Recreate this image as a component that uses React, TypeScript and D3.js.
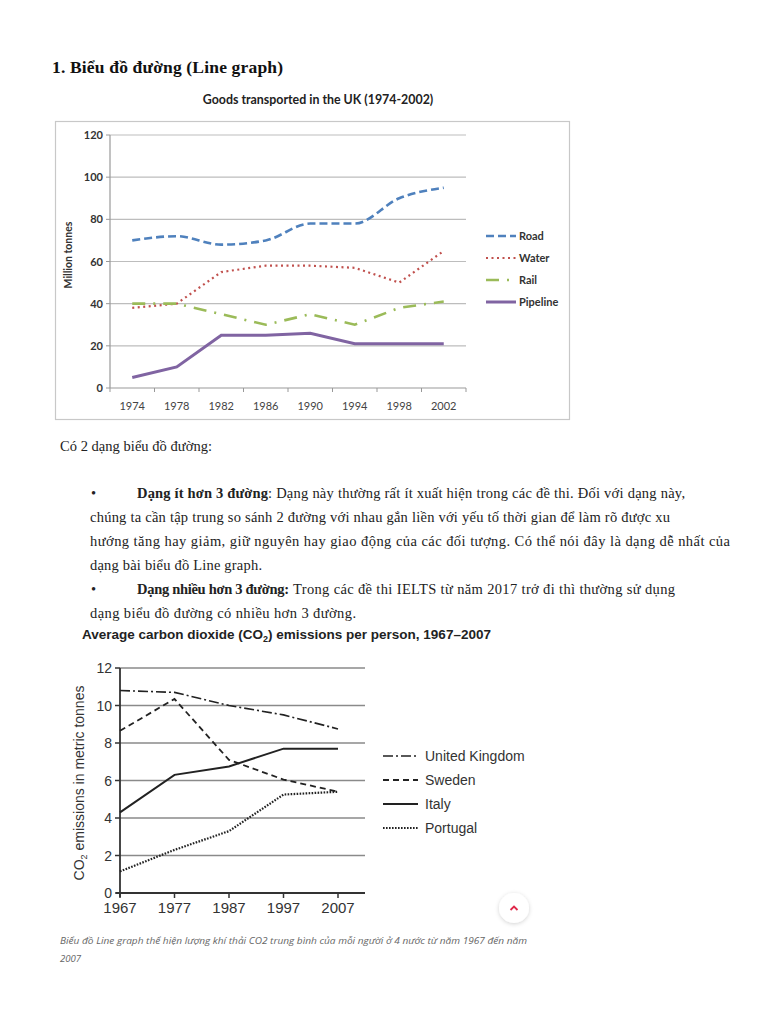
import React from "react";
import * as d3 from "d3";

// ---------- Chart 1 data ----------
const years1 = ["1974", "1978", "1982", "1986", "1990", "1994", "1998", "2002"];
const road = [70, 72, 68, 70, 78, 78, 90, 95];
const water = [38, 40, 55, 58, 58, 57, 50, 65];
const rail = [40, 40, 35, 30, 35, 30, 38, 41];
const pipeline = [5, 10, 25, 25, 26, 21, 21, 21];
const yTicks1 = [0, 20, 40, 60, 80, 100, 120];
const seriesNames1 = ["Road", "Water", "Rail", "Pipeline"];

// ---------- Chart 2 data ----------
const years2 = [1967, 1977, 1987, 1997, 2007];
const uk = [10.8, 10.7, 10.0, 9.5, 8.75];
const sweden = [8.65, 10.35, 7.1, 6.05, 5.4];
const italy = [4.3, 6.3, 6.75, 7.7, 7.7];
const portugal = [1.15, 2.3, 3.3, 5.25, 5.4];
const yTicks2 = [0, 2, 4, 6, 8, 10, 12];
const seriesNames2 = ["United Kingdom", "Sweden", "Italy", "Portugal"];

const serif = "'Liberation Serif', 'Times New Roman', serif";
const sans = "'Liberation Sans', Arial, sans-serif";
const calib = "Lato, 'Open Sans', sans-serif";

export default function App() {
  // Chart 1 scales
  const x1 = d3.scaleBand<string>().domain(years1).range([110, 466]).padding(0);
  const y1 = d3.scaleLinear().domain([0, 120]).range([388, 135]);
  const cx1 = (y: string) => (x1(y) as number) + x1.bandwidth() / 2;
  const styles1 = [
    { data: road, color: "#4F81BD", dash: "8,4", w: 2.6, curve: d3.curveMonotoneX },
    { data: water, color: "#C0504D", dash: "2,3.5", w: 2.2, curve: d3.curveLinear },
    { data: rail, color: "#9BBB59", dash: "13,8,2,8", w: 2.6, curve: d3.curveLinear },
    { data: pipeline, color: "#8064A2", dash: "none", w: 3, curve: d3.curveLinear },
  ];
  const mkLine1 = (curve: any) =>
    d3
      .line<number>()
      .x((_, i) => cx1(years1[i]))
      .y((d) => y1(d))
      .curve(curve);

  // Chart 2 scales
  const x2 = d3.scaleLinear().domain([1967, 2007]).range([120, 338]);
  const y2 = d3.scaleLinear().domain([0, 12]).range([893, 668]);
  const styles2 = [
    { data: uk, dash: "10,3,2,3", w: 1.6 },
    { data: sweden, dash: "6,4", w: 1.8 },
    { data: italy, dash: "none", w: 2 },
    { data: portugal, dash: "1.6,1.4", w: 2.2 },
  ];
  const line2 = d3
    .line<number>()
    .x((_, i) => x2(years2[i]))
    .y((d) => y2(d));

  const bandEdges = years1.map((y) => x1(y) as number).concat([466]);

  return (
    <svg
      width={768}
      height={1024}
      style={{ position: "absolute", left: 0, top: 0, background: "#fff" }}
    >
      <defs>
        <filter id="sh" x="-50%" y="-50%" width="200%" height="200%">
          <feDropShadow dx="0" dy="1" stdDeviation="2" floodColor="#000" floodOpacity="0.18" />
        </filter>
      </defs>
      <rect width={768} height={1024} fill="#fff" />

      {/* Heading */}
      <text x={52} y={73} fontFamily={serif} fontWeight="bold" fontSize={17.5} fill="#111" textLength={231} lengthAdjust="spacing">
        1. Biểu đồ đường (Line graph)
      </text>

      {/* Chart 1 title */}
      <text x={318} y={104} textAnchor="middle" fontFamily={calib} fontWeight="bold" fontSize={12.4} fill="#222">
        Goods transported in the UK (1974-2002)
      </text>

      {/* Chart 1 frame */}
      <rect x={55.5} y={121.5} width={514} height={298} fill="#fff" stroke="#c8c8c8" strokeWidth={1.2} />

      {/* gridlines */}
      {yTicks1.map((t) => (
        <g key={"g1" + t}>
          {t > 0 && <line x1={110} x2={466} y1={y1(t)} y2={y1(t)} stroke="#bdbdbd" strokeWidth={1.2} />}
          <line x1={106} x2={110} y1={y1(t)} y2={y1(t)} stroke="#999" strokeWidth={1} />
          <text x={103} y={y1(t) + 4} textAnchor="end" fontFamily={calib} fontWeight="bold" fontSize={11} fill="#333">
            {t}
          </text>
        </g>
      ))}
      <line x1={110} x2={110} y1={135} y2={388} stroke="#999" strokeWidth={1.2} />
      <line x1={110} x2={466} y1={388} y2={388} stroke="#999" strokeWidth={1.2} />
      {bandEdges.map((e, i) => (
        <line key={"be" + i} x1={e} x2={e} y1={388} y2={392} stroke="#999" strokeWidth={1} />
      ))}
      {years1.map((y) => (
        <text key={"xl1" + y} x={cx1(y)} y={410} textAnchor="middle" fontFamily={calib} fontSize={11} fill="#444">
          {y}
        </text>
      ))}
      <text
        transform={`translate(72,255) rotate(-90)`}
        textAnchor="middle"
        fontFamily={calib}
        fontWeight="bold"
        fontSize={10.5}
        fill="#333"
      >
        Million tonnes
      </text>

      {/* series */}
      {styles1.map((s, i) => (
        <path
          key={"s1" + i}
          d={mkLine1(s.curve)(s.data) as string}
          fill="none"
          stroke={s.color}
          strokeWidth={s.w}
          strokeDasharray={s.dash}
        />
      ))}

      {/* legend 1 */}
      {seriesNames1.map((n, i) => {
        const ly = 236 + i * 22;
        const s = styles1[i];
        return (
          <g key={"lg1" + n}>
            <line x1={486} x2={516} y1={ly} y2={ly} stroke={s.color} strokeWidth={s.w} strokeDasharray={s.dash} />
            <text x={519} y={ly + 4} fontFamily={calib} fontWeight="bold" fontSize={11} fill="#333">
              {n}
            </text>
          </g>
        );
      })}

      {/* Body text */}
      <g fontFamily={serif} fontSize={14.5} fill="#222">
        <text x={60} y={451} textLength={152} lengthAdjust="spacing">Có 2 dạng biểu đồ đường:</text>
        <text x={91} y={498}>•</text>
        <text x={137} y={498} fontWeight="bold" textLength={131} lengthAdjust="spacing">Dạng ít hơn 3 đường</text>
        <text x={268} y={498} textLength={417} lengthAdjust="spacing">
          : Dạng này thường rất ít xuất hiện trong các đề thi. Đối với dạng này,
        </text>
        <text x={90} y={522} textLength={580} lengthAdjust="spacing">
          chúng ta cần tập trung so sánh 2 đường với nhau gắn liền với yếu tố thời gian để làm rõ được xu
        </text>
        <text x={90} y={546} textLength={640} lengthAdjust="spacing">
          hướng tăng hay giảm, giữ nguyên hay giao động của các đối tượng. Có thể nói đây là dạng dễ nhất của
        </text>
        <text x={90} y={570} textLength={172} lengthAdjust="spacing">dạng bài biểu đồ Line graph.</text>
        <text x={91} y={594}>•</text>
        <text x={137} y={594} fontWeight="bold" textLength={152} lengthAdjust="spacing">Dạng nhiều hơn 3 đường:</text>
        <text x={293} y={594} textLength={382} lengthAdjust="spacing">
          Trong các đề thi IELTS từ năm 2017 trở đi thì thường sử dụng
        </text>
        <text x={90} y={618} textLength={266} lengthAdjust="spacing">dạng biểu đồ đường có nhiều hơn 3 đường.</text>
      </g>

      {/* Chart 2 title */}
      <text x={82} y={639} fontFamily={sans} fontWeight="bold" fontSize={13.5} fill="#222">
        Average carbon dioxide (CO<tspan fontSize={9} dy={3}>2</tspan>
        <tspan dy={-3}>) emissions per person, 1967–2007</tspan>
      </text>

      {/* Chart 2 grid */}
      {yTicks2.map((t) => (
        <g key={"g2" + t}>
          {t > 0 && <line x1={120} x2={365} y1={y2(t)} y2={y2(t)} stroke="#8a8a8a" strokeWidth={1.6} />}
          <line x1={115} x2={120} y1={y2(t)} y2={y2(t)} stroke="#333" strokeWidth={1.5} />
          <text x={112} y={y2(t) + 5} textAnchor="end" fontFamily={sans} fontSize={14} fill="#333">
            {t}
          </text>
        </g>
      ))}
      <line x1={120} x2={120} y1={668} y2={897} stroke="#333" strokeWidth={1.8} />
      <line x1={116} x2={365} y1={893} y2={893} stroke="#333" strokeWidth={1.8} />
      {years2.map((y) => (
        <g key={"xl2" + y}>
          <line x1={x2(y)} x2={x2(y)} y1={893} y2={898} stroke="#333" strokeWidth={1.5} />
          <text x={x2(y)} y={913} textAnchor="middle" fontFamily={sans} fontSize={15} fill="#333">
            {y}
          </text>
        </g>
      ))}
      <text transform={`translate(84,783) rotate(-90)`} textAnchor="middle" fontFamily={sans} fontSize={14} fill="#333">
        CO<tspan fontSize={9} dy={3}>2</tspan>
        <tspan dy={-3}> emissions in metric tonnes</tspan>
      </text>

      {styles2.map((s, i) => (
        <path
          key={"s2" + i}
          d={line2(s.data) as string}
          fill="none"
          stroke="#222"
          strokeWidth={s.w}
          strokeDasharray={s.dash}
        />
      ))}

      {/* legend 2 */}
      {seriesNames2.map((n, i) => {
        const ly = 756 + i * 24;
        const s = styles2[i];
        return (
          <g key={"lg2" + n}>
            <line x1={383} x2={418} y1={ly} y2={ly} stroke="#222" strokeWidth={s.w} strokeDasharray={s.dash} />
            <text x={425} y={ly + 5} fontFamily={sans} fontSize={14} fill="#333">
              {n}
            </text>
          </g>
        );
      })}

      {/* scroll-to-top button */}
      <g filter="url(#sh)">
        <circle cx={514} cy={908} r={15} fill="#fff" />
      </g>
      <path d="M510.5,910 L514,906.5 L517.5,910" fill="none" stroke="#e0284a" strokeWidth={1.8} />

      {/* caption */}
      <g fontFamily="'Open Sans', Lato, sans-serif" fontStyle="italic" fontSize={9.6} fill="#666">
        <text x={60} y={944} textLength={467} lengthAdjust="spacingAndGlyphs">
          Biểu đồ Line graph thể hiện lượng khí thải CO2 trung bình của mỗi người ở 4 nước từ năm 1967 đến năm
        </text>
        <text x={60} y={962}>2007</text>
      </g>
    </svg>
  );
}
